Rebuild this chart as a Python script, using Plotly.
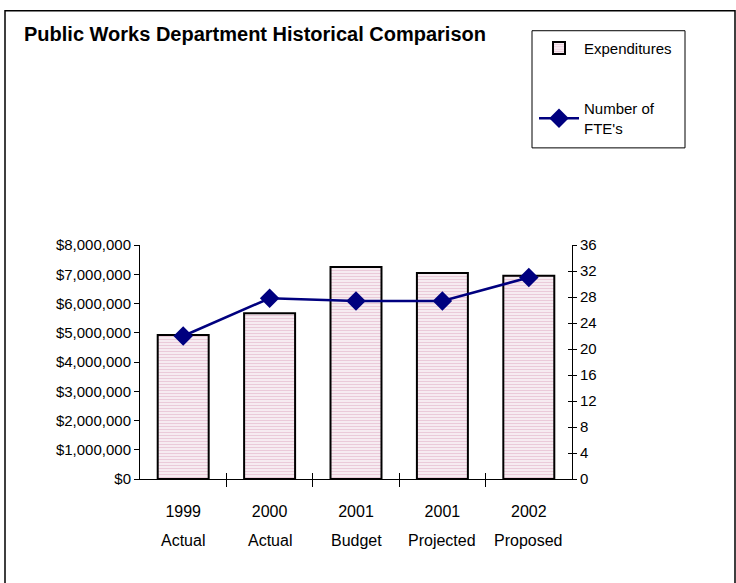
import plotly.graph_objects as go

categories = ["1999", "2000", "2001", "2001", "2002"]
category_sub = ["Actual", "Actual", "Budget", "Projected", "Proposed"]
expenditures = [4920000, 5670000, 7250000, 7040000, 6950000]
ftes = [22, 27.8, 27.4, 27.4, 31]
left_ticks = [0, 1000000, 2000000, 3000000, 4000000, 5000000, 6000000, 7000000, 8000000]
left_ticktext = ["$0", "$1,000,000", "$2,000,000", "$3,000,000", "$4,000,000",
                 "$5,000,000", "$6,000,000", "$7,000,000", "$8,000,000"]
right_ticks = [0, 4, 8, 12, 16, 20, 24, 28, 32, 36]

W, H = 736, 583
PL, PR, PT, PB = 140, 572, 245, 478.7   # plot area in screen pixels
L, T = PL, PT
R = W - PR
B = H - PB
pw, ph = PR - PL, PB - PT

FONT = "Liberation Sans Narrow, Arial Narrow, Liberation Sans, Arial"
xs = list(range(len(categories)))

def px_x(p):
    return (p - PL) / pw

def px_y(p):
    return (PB - p) / ph

fig = go.Figure()
fig.add_trace(go.Bar(
    x=xs, y=expenditures, name="Expenditures", legendgroup="a",
    marker=dict(color="white", line=dict(color="black", width=2),
                pattern=dict(shape="-", fgcolor="#dba6c0", bgcolor="#f8eef3", size=3, solidity=0.4)),
    width=0.59, yaxis="y",
))
fig.add_trace(go.Scatter(
    x=xs, y=ftes, name="Number of<br>FTE's", mode="lines+markers", legendgroup="b",
    line=dict(color="#00007f", width=2.5),
    marker=dict(symbol="diamond", size=15, color="#00007f"),
    yaxis="y2",
))

fig.update_layout(
    width=W, height=H,
    margin=dict(l=L, r=R, t=T, b=B, autoexpand=False),
    paper_bgcolor="white", plot_bgcolor="white",
    font=dict(family=FONT, size=15, color="black"),
    showlegend=True,
    legend=dict(x=px_x(534), y=px_y(32), xanchor="left", yanchor="top",
                borderwidth=0, bgcolor="rgba(0,0,0,0)",
                font=dict(family=FONT, size=15), tracegroupgap=38,
                itemwidth=40, traceorder="grouped"),
    xaxis=dict(type="linear", range=[-0.5, 4.5], tickvals=xs,
               ticktext=categories, showgrid=False, zeroline=False,
               showline=True, linecolor="black", linewidth=1,
               ticks="", ticklabelstandoff=18, tickfont=dict(family=FONT, size=16)),
    xaxis2=dict(overlaying="x", range=[-0.5, 4.5], tickvals=[0.5, 1.5, 2.5, 3.5],
                showticklabels=False, ticks="outside", ticklen=7, tickcolor="black",
                showgrid=False, zeroline=False, side="bottom", anchor="y"),
    xaxis3=dict(overlaying="x", range=[-0.5, 4.5], tickvals=[0.5, 1.5, 2.5, 3.5],
                showticklabels=False, ticks="inside", ticklen=6, tickcolor="black",
                showgrid=False, zeroline=False, side="bottom", anchor="y"),
    yaxis=dict(range=[0, 8000000], tickvals=left_ticks, ticktext=left_ticktext,
               showgrid=False, zeroline=False, showline=True, linecolor="black",
               linewidth=1, ticks="outside", ticklen=5, tickcolor="black",
               tickfont=dict(family=FONT, size=15)),
    yaxis2=dict(range=[0, 36], tickvals=right_ticks, overlaying="y", side="right",
                showgrid=False, zeroline=False, showline=True, linecolor="black",
                linewidth=1, ticks="outside", ticklen=4, tickcolor="black",
                tickfont=dict(family=FONT, size=15)),
    yaxis3=dict(range=[0, 36], tickvals=right_ticks, overlaying="y", side="right",
                anchor="x", showgrid=False, zeroline=False, showticklabels=False,
                ticks="inside", ticklen=4, tickcolor="black"),
    bargap=0.41,
)

fig.add_trace(go.Scatter(x=[None], y=[None], xaxis="x2", yaxis="y", showlegend=False, hoverinfo="skip"))
fig.add_trace(go.Scatter(x=[None], y=[None], xaxis="x3", yaxis="y", showlegend=False, hoverinfo="skip"))
fig.add_trace(go.Scatter(x=[None], y=[None], xaxis="x", yaxis="y3", showlegend=False, hoverinfo="skip"))

annotations = [
    dict(text="<b>Public Works Department Historical Comparison</b>", x=px_x(22), y=px_y(21),
         xref="paper", yref="paper", xanchor="left", yanchor="top", showarrow=False,
         font=dict(family=FONT, size=20, color="black")),
]
for i, s in enumerate(category_sub):
    annotations.append(dict(text=s, x=i, y=px_y(540), xref="x", yref="paper",
                            xanchor="center", yanchor="middle", showarrow=False,
                            font=dict(family=FONT, size=16)))
fig.update_layout(annotations=annotations)

fig.add_shape(type="rect", xref="paper", yref="paper",
              x0=px_x(5), x1=px_x(735), y0=px_y(600), y1=px_y(11),
              line=dict(color="black", width=1.5), fillcolor="rgba(0,0,0,0)", layer="below")
fig.add_shape(type="rect", xref="paper", yref="paper",
              x0=px_x(532), x1=px_x(685), y0=px_y(148), y1=px_y(31),
              line=dict(color="black", width=1), fillcolor="rgba(0,0,0,0)", layer="below")

fig.write_html("out.html", config={"displayModeBar": False},
               post_script="document.body.style.margin='0px';")
